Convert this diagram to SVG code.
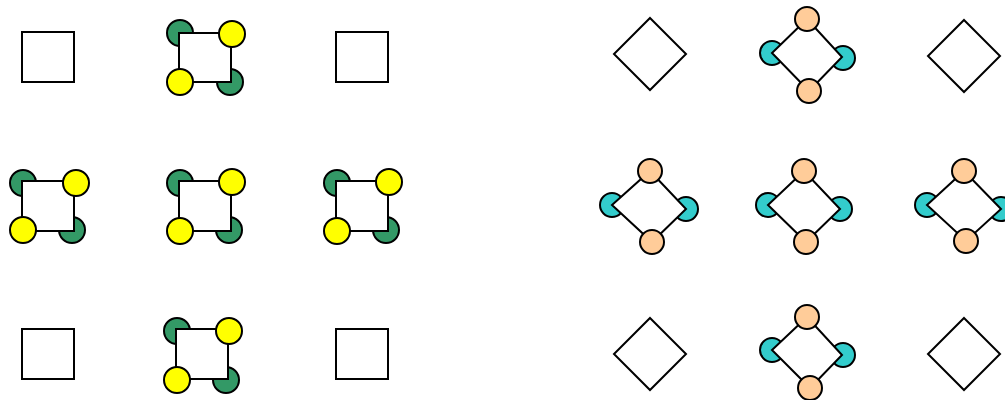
<svg xmlns="http://www.w3.org/2000/svg" width="1005" height="400" viewBox="0 0 1005 400">
<style>
.sq{fill:#fff;stroke:#000;stroke-width:2}
.g{fill:#339966;stroke:#000;stroke-width:2}
.y{fill:#ffff00;stroke:#000;stroke-width:2}
.c{fill:#33cccc;stroke:#000;stroke-width:2}
.p{fill:#ffcc99;stroke:#000;stroke-width:2}
</style>
<rect width="1005" height="400" fill="#fff"/>
<g id="sq1"><rect class="sq" x="22" y="32" width="52" height="50"/></g>
<g id="sq2">
<circle class="g" cx="180" cy="33" r="13"/><circle class="g" cx="230" cy="82" r="13"/>
<rect class="sq" x="179" y="33" width="52" height="49"/>
<circle class="y" cx="232" cy="34" r="13"/><circle class="y" cx="180" cy="82" r="13"/>
</g>
<g id="sq3"><rect class="sq" x="336" y="32" width="52" height="50"/></g>
<g id="sq4">
<circle class="g" cx="23" cy="183" r="13"/><circle class="g" cx="72" cy="230" r="13"/>
<rect class="sq" x="22" y="181" width="52" height="50"/>
<circle class="y" cx="76" cy="183" r="13"/><circle class="y" cx="23" cy="230" r="13"/>
</g>
<g id="sq5">
<circle class="g" cx="180" cy="183" r="13"/><circle class="g" cx="229" cy="230" r="13"/>
<rect class="sq" x="179" y="181" width="52" height="50"/>
<circle class="y" cx="232" cy="182" r="13"/><circle class="y" cx="180" cy="231" r="13"/>
</g>
<g id="sq6">
<circle class="g" cx="337" cy="183" r="13"/><circle class="g" cx="386" cy="230" r="13"/>
<rect class="sq" x="336" y="181" width="52" height="50"/>
<circle class="y" cx="389" cy="182" r="13"/><circle class="y" cx="337" cy="231" r="13"/>
</g>
<g id="sq7"><rect class="sq" x="22" y="329" width="52" height="50"/></g>
<g id="sq8">
<circle class="g" cx="177" cy="331" r="13"/><circle class="g" cx="226" cy="380" r="13"/>
<rect class="sq" x="176" y="329" width="52" height="50"/>
<circle class="y" cx="229" cy="331" r="13"/><circle class="y" cx="177" cy="380" r="13"/>
</g>
<g id="sq9"><rect class="sq" x="336" y="329" width="52" height="50"/></g>

<g id="d1"><polygon class="sq" points="650,18 686,54 650,90 614,54"/></g>
<g id="d2">
<circle class="c" cx="772" cy="53" r="12"/><circle class="c" cx="843" cy="58" r="12"/>
<polygon class="sq" points="807,19 842,57 809,91 772,53"/>
<circle class="p" cx="807" cy="19" r="12"/><circle class="p" cx="809" cy="91" r="12"/>
</g>
<g id="d3"><polygon class="sq" points="964,20 1000,56 964,92 928,56"/></g>
<g id="d4">
<circle class="c" cx="612" cy="205" r="12"/><circle class="c" cx="686" cy="209" r="12"/>
<polygon class="sq" points="650,171 686,209 652,242 612,205"/>
<circle class="p" cx="650" cy="171" r="12"/><circle class="p" cx="652" cy="242" r="12"/>
</g>
<g id="d5">
<circle class="c" cx="768" cy="205" r="12"/><circle class="c" cx="840" cy="209" r="12"/>
<polygon class="sq" points="804,171 840,209 806,242 768,205"/>
<circle class="p" cx="804" cy="171" r="12"/><circle class="p" cx="806" cy="242" r="12"/>
</g>
<g id="d6">
<circle class="c" cx="927" cy="205" r="12"/><circle class="c" cx="1001" cy="209" r="12"/>
<polygon class="sq" points="964,171 1001,209 966,241 927,205"/>
<circle class="p" cx="964" cy="171" r="12"/><circle class="p" cx="966" cy="241" r="12"/>
</g>
<g id="d7"><polygon class="sq" points="650,318 686,354 650,390 614,354"/></g>
<g id="d8">
<circle class="c" cx="772" cy="350" r="12"/><circle class="c" cx="843" cy="355" r="12"/>
<polygon class="sq" points="807,317 842,355 810,388 772,350"/>
<circle class="p" cx="807" cy="317" r="12"/><circle class="p" cx="810" cy="388" r="12"/>
</g>
<g id="d9"><polygon class="sq" points="964,318 1000,354 964,390 928,354"/></g>
<g id="connectors"/>
</svg>
